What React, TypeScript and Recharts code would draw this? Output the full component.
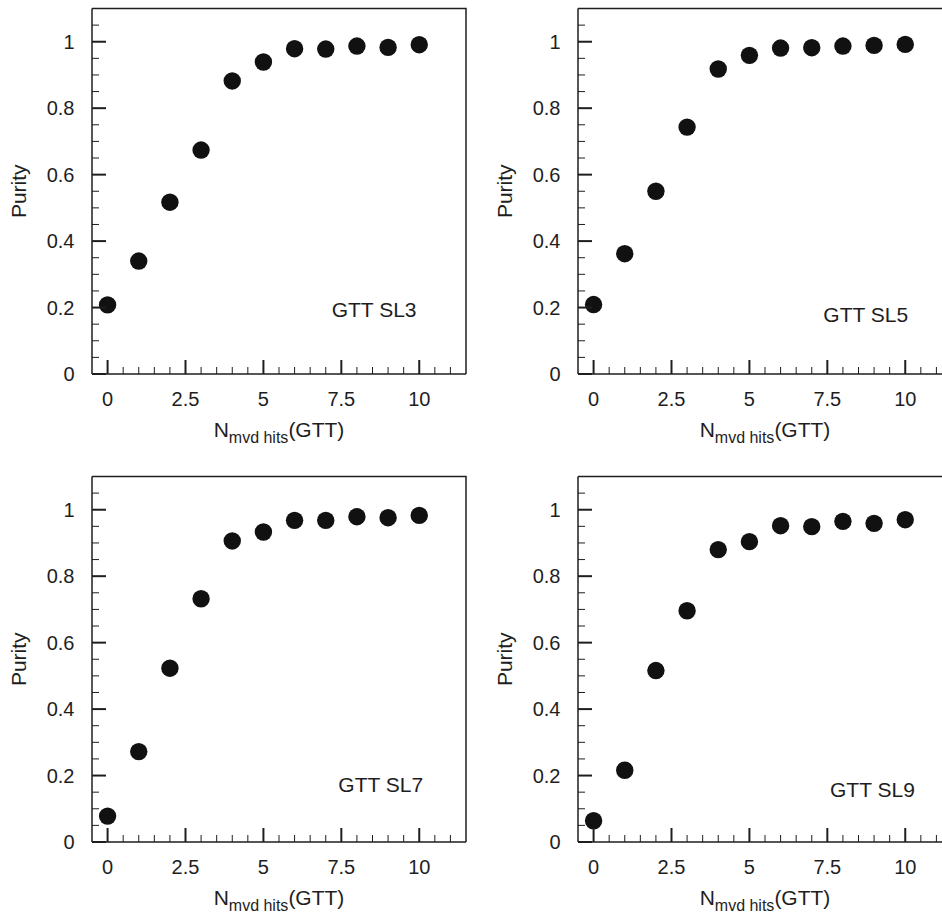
import React from 'react';
import { ScatterChart, Scatter, XAxis, YAxis } from 'recharts';

// number of MVD hits on the GTT track
const hits = [0, 1, 2, 3, 4, 5, 6, 7, 8, 9, 10];

const puritySL3 = [0.208, 0.34, 0.517, 0.674, 0.882, 0.939, 0.979, 0.978, 0.987, 0.983, 0.991];
const puritySL5 = [0.209, 0.362, 0.55, 0.743, 0.918, 0.959, 0.981, 0.982, 0.987, 0.989, 0.992];
const puritySL7 = [0.078, 0.272, 0.523, 0.732, 0.906, 0.933, 0.968, 0.968, 0.979, 0.976, 0.983];
const puritySL9 = [0.064, 0.216, 0.516, 0.696, 0.88, 0.904, 0.952, 0.949, 0.965, 0.959, 0.97];

const xTicks = [0, 0.5, 1, 1.5, 2, 2.5, 3, 3.5, 4, 4.5, 5, 5.5, 6, 6.5, 7, 7.5, 8, 8.5, 9, 9.5, 10, 10.5, 11];
const yTicks = [0, 0.05, 0.1, 0.15, 0.2, 0.25, 0.3, 0.35, 0.4, 0.45, 0.5, 0.55, 0.6, 0.65, 0.7, 0.75, 0.8, 0.85, 0.9, 0.95, 1, 1.05];

const X_DOMAIN: [number, number] = [-0.5, 11.5];
const Y_DOMAIN: [number, number] = [0, 1.1];

const INK = '#1e1e1e';
const FONT = '"Liberation Sans", Arial, Helvetica, sans-serif';
const frameLine = { stroke: INK, strokeWidth: 1.5 };

// plot box inside each 470x460 panel
const PLOT = { left: 92, top: 8.5, width: 374, height: 365.5 };

const panels = [
  { tag: 'GTT SL3', values: puritySL3, left: 0, top: 0, tagX: 239.7, tagY: 308.2 },
  { tag: 'GTT SL5', values: puritySL5, left: 486, top: 0, tagX: 245.3, tagY: 313.8 },
  { tag: 'GTT SL7', values: puritySL7, left: 0, top: 467.5, tagX: 246.3, tagY: 315.7 },
  { tag: 'GTT SL9', values: puritySL9, left: 486, top: 467.5, tagX: 252, tagY: 320.7 },
];

const isMultiple = (v: number, step: number) => Math.abs(v / step - Math.round(v / step)) < 1e-6;
const xMajor = (v: number) => isMultiple(v, 2.5);
const yMajor = (v: number) => isMultiple(v, 0.2);

// same linear mapping the axes use, for the inward tick marks on the overlay
const xPx = (v: number) => PLOT.left + ((v - X_DOMAIN[0]) / (X_DOMAIN[1] - X_DOMAIN[0])) * PLOT.width;
const yPx = (v: number) => PLOT.top + PLOT.height - ((v - Y_DOMAIN[0]) / (Y_DOMAIN[1] - Y_DOMAIN[0])) * PLOT.height;

function XTick({ x, y, payload }: any) {
  if (!xMajor(payload.value)) return <g />;
  return (
    <text x={Number(x)} y={Number(y) + 32} textAnchor="middle" fill={INK} fontSize={20} fontFamily={FONT}>
      {payload.value}
    </text>
  );
}

function YTick({ x, y, payload }: any) {
  if (!yMajor(payload.value)) return <g />;
  return (
    <text x={Number(x) - 17.5} y={Number(y) + 7} textAnchor="end" fill={INK} fontSize={20} fontFamily={FONT}>
      {Math.round(payload.value * 10) / 10}
    </text>
  );
}

function Dot({ cx, cy }: any) {
  return <circle cx={cx} cy={cy} r={8.7} fill="#111" />;
}

function Overlay({ tag, tagX, tagY }: { tag: string; tagX: number; tagY: number }) {
  const right = PLOT.left + PLOT.width;
  const bottom = PLOT.top + PLOT.height;
  const titleX = PLOT.left - 66.5;
  const midY = PLOT.top + PLOT.height / 2;
  return (
    <svg
      width={470}
      height={460}
      style={{ position: 'absolute', left: 0, top: 0, pointerEvents: 'none', overflow: 'visible' }}
    >
      <polyline
        points={`${PLOT.left},${PLOT.top} ${right},${PLOT.top} ${right},${bottom}`}
        fill="none"
        stroke={INK}
        strokeWidth={1.5}
      />
      {xTicks.map((v) => (
        <line
          key={`x${v}`}
          x1={xPx(v)}
          x2={xPx(v)}
          y1={bottom}
          y2={bottom - (xMajor(v) ? 14 : 7)}
          stroke={INK}
          strokeWidth={xMajor(v) ? 2 : 1}
        />
      ))}
      {yTicks.map((v) => (
        <line
          key={`y${v}`}
          x1={PLOT.left}
          x2={PLOT.left + (yMajor(v) ? 14 : 7)}
          y1={yPx(v)}
          y2={yPx(v)}
          stroke={INK}
          strokeWidth={yMajor(v) ? 2 : 1}
        />
      ))}
      <text x={PLOT.left + tagX} y={PLOT.top + tagY} fill={INK} fontSize={21} fontFamily={FONT}>
        {tag}
      </text>
      <text x={PLOT.left + PLOT.width / 2} y={bottom + 63.3} textAnchor="middle" fill={INK} fontSize={21} fontFamily={FONT}>
        N
        <tspan fontSize={16} dy={6}>mvd hits</tspan>
        <tspan dy={-6}>(GTT)</tspan>
      </text>
      <text
        x={titleX}
        y={midY}
        transform={`rotate(-90, ${titleX}, ${midY})`}
        textAnchor="middle"
        fill={INK}
        fontSize={21}
        fontFamily={FONT}
      >
        Purity
      </text>
    </svg>
  );
}

function Panel({ tag, values, tagX, tagY }: { tag: string; values: number[]; tagX: number; tagY: number }) {
  const data = hits.map((h, i) => ({ x: h, y: values[i] }));
  return (
    <div style={{ position: 'relative', width: 470, height: 460 }}>
      <ScatterChart width={470} height={460} margin={{ top: 8.5, left: 32, right: 4, bottom: 56 }}>
        <XAxis
          type="number"
          dataKey="x"
          domain={X_DOMAIN}
          ticks={xTicks}
          interval={0}
          height={30}
          tickSize={0}
          tickMargin={0}
          axisLine={frameLine}
          tickLine={false}
          tick={<XTick />}
          allowDataOverflow
        />
        <YAxis
          type="number"
          dataKey="y"
          domain={Y_DOMAIN}
          ticks={yTicks}
          interval={0}
          width={60}
          tickSize={0}
          tickMargin={0}
          axisLine={frameLine}
          tickLine={false}
          tick={<YTick />}
          allowDataOverflow
        />
        <Scatter data={data} shape={<Dot />} isAnimationActive={false} />
      </ScatterChart>
      <Overlay tag={tag} tagX={tagX} tagY={tagY} />
    </div>
  );
}

export default function App() {
  return (
    <div
      style={{
        position: 'absolute',
        left: 0,
        top: 0,
        width: 942,
        height: 914,
        overflow: 'hidden',
        background: '#fff',
      }}
    >
      {panels.map((p) => (
        <div key={p.tag} style={{ position: 'absolute', left: p.left, top: p.top }}>
          <Panel tag={p.tag} values={p.values} tagX={p.tagX} tagY={p.tagY} />
        </div>
      ))}
    </div>
  );
}
